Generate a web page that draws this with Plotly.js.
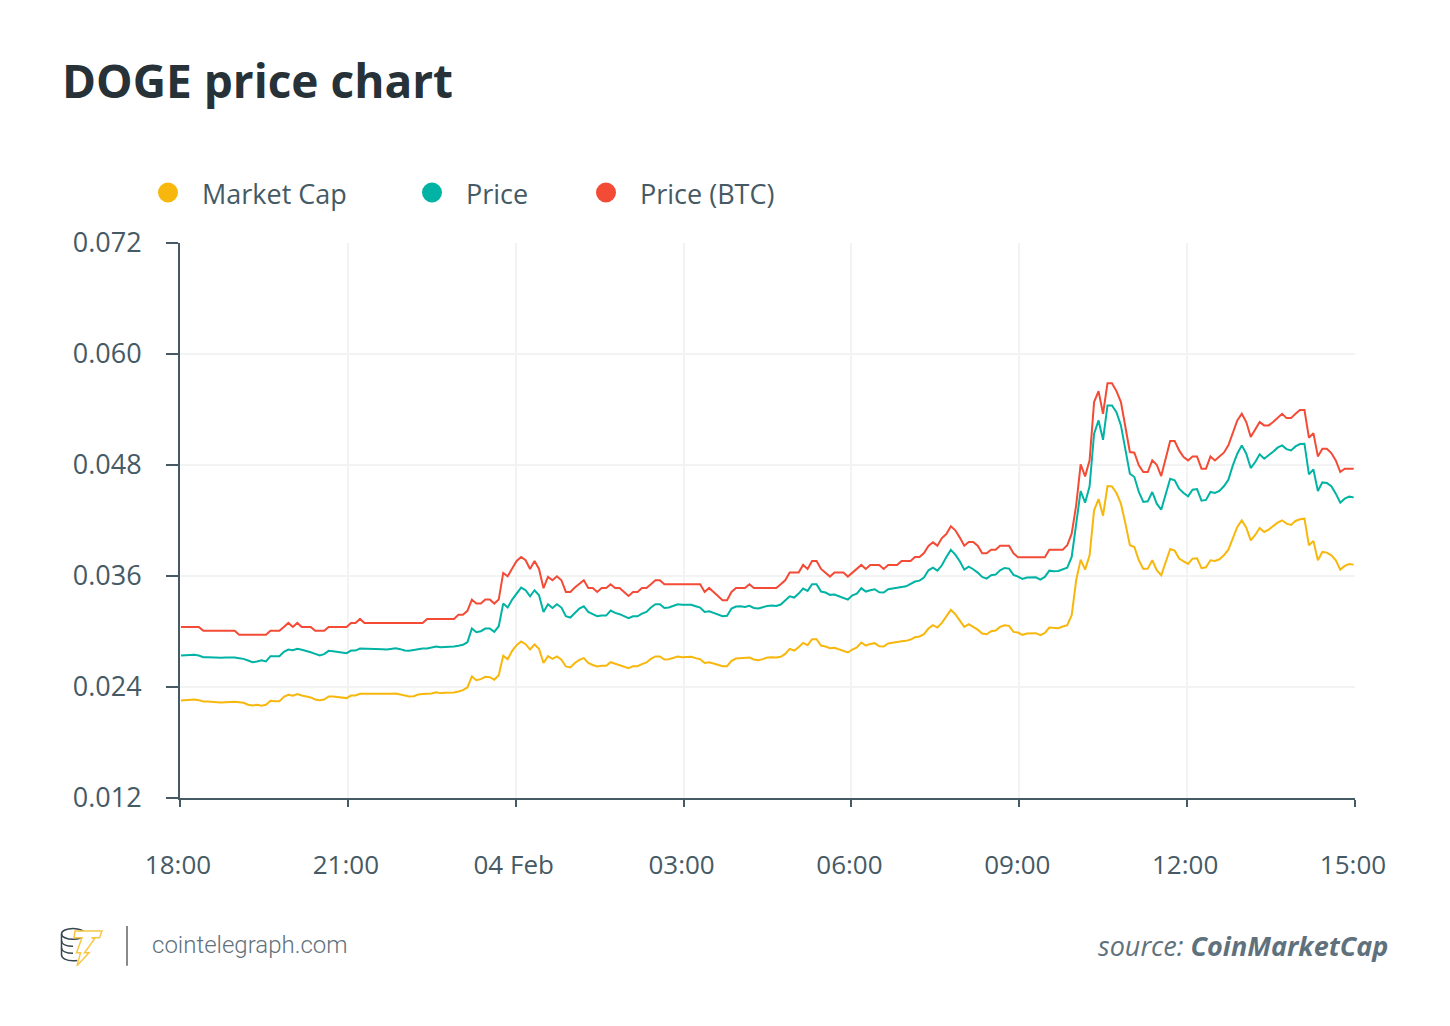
<!DOCTYPE html>
<html>
<head>
<meta charset="utf-8">
<script src="https://cdn.plot.ly/plotly-2.35.2.min.js"></script>
<style>html,body{margin:0;padding:0;background:#fff;}</style>
</head>
<body>
<div id="chart" style="width:1450px;height:1026px;"></div>
<script>
// values, one sample every 4.8 minutes
var priceBtc = [
  0.0305,0.0305,0.0305,0.0305,0.0305,0.03007,0.03007,0.03007,0.03007,0.03007,0.03007,0.03007,0.03007,
  0.02964,0.02964,0.02964,0.02964,0.02964,0.02964,0.02964,0.03007,0.03007,0.03007,0.0305,0.03093,0.0305,0.03093,
  0.0305,0.0305,0.0305,0.03007,0.03007,0.03007,0.0305,0.0305,0.0305,0.0305,0.0305,0.03093,0.03093,0.03136,
  0.03093,0.03093,0.03093,0.03093,0.03093,0.03093,0.03093,0.03093,0.03093,0.03093,0.03093,0.03093,0.03093,0.03093,
  0.03136,0.03136,0.03136,0.03136,0.03136,0.03136,0.03136,0.0318,0.0318,0.03223,0.03345,0.03302,0.03302,0.03345,0.03345,
  0.03302,0.03345,0.03633,0.03597,0.0368,
  0.03763,0.03806,0.0377,0.03676,0.03763,0.03676,0.03468,0.0359,0.03554,0.03597,0.03554,0.03428,0.03428,0.03475,0.03518,
  0.03554,0.03471,0.03471,0.03428,0.03471,0.03471,0.03511,0.03471,0.03471,0.03428,0.03385,0.03428,0.03428,0.03471,0.03471,
  0.03511,0.03554,0.03554,0.03511,0.03511,0.03511,0.03511,0.03511,0.03511,0.03511,0.03511,0.03511,0.03428,0.03471,0.03428,
  0.03385,0.03338,0.03338,0.03428,0.03471,0.03471,0.03471,0.03511,0.03471,0.03471,0.03471,0.03471,0.03471,0.03471,
  0.03511,0.03554,0.03637,0.03637,0.03637,0.0372,0.03676,0.03763,0.03763,0.03676,0.03637,0.03594,0.03637,0.03637,0.03637,0.03594,
  0.03637,0.0368,0.0372,0.03676,0.0372,0.0372,0.0372,0.03676,0.0372,0.0372,0.0372,0.03763,0.03763,0.03763,0.03806,0.03806,
  0.03849,0.03925,0.03964,0.03928,0.0401,0.04054,0.04137,0.04094,0.04015,0.03928,0.03968,0.03968,0.03928,0.03846,0.03846,
  0.03885,0.03885,0.03928,0.03928,0.03928,0.03846,0.03802,0.03802,0.03802,0.03802,0.03802,0.03802,0.03802,0.03885,0.03885,0.03885,
  0.03885,0.03932,0.04058,0.04364,0.04807,0.04677,0.0485,0.0548,0.05599,0.05354,0.05685,0.05685,0.05599,0.0548,0.0521,0.0494,
  0.04933,0.04796,0.04724,0.04724,0.0485,0.04803,0.04681,0.04868,0.05059,0.05059,0.04958,0.04886,0.0485,0.04893,0.04893,
  0.0476,0.0476,0.04893,0.0485,0.04893,0.04933,0.05012,0.05138,0.05282,0.05354,0.05264,0.05102,0.05181,0.05264,0.05228,0.05228,
  0.05264,0.05311,0.05354,0.05307,0.05307,0.05354,0.05394,0.05394,0.05095,0.05145,0.04893,0.04976,0.04976,0.04929,0.0485,
  0.04724,0.0476,0.0476,0.0476
];
var price = [
  0.0274,0.02744,0.02748,0.02748,0.0274,0.02722,0.02722,0.02719,0.02715,0.02715,0.02719,0.02722,0.02719,0.02712,0.02704,
  0.02686,0.02668,0.02676,0.0269,0.02676,0.02733,0.02733,0.02733,0.0278,0.02805,0.02798,0.02812,0.02802,0.02791,0.02776,
  0.02758,0.0274,0.02755,0.02791,0.02787,0.0278,0.02769,0.02766,0.02794,0.02794,0.02816,0.02816,0.02809,0.02816,0.02816,
  0.02809,0.02805,0.02816,0.0282,0.02809,0.02794,0.02791,0.02798,0.02812,0.02816,0.02816,0.02823,0.02838,0.0283,0.0283,
  0.02834,0.02838,0.02845,0.02856,0.02884,0.03032,0.02992,0.03003,0.03032,0.03032,0.02996,0.03057,0.03302,0.03259,0.03345,
  0.0341,0.03475,0.03446,0.03381,0.03446,0.03392,0.03212,0.03295,0.03255,0.03295,0.03259,0.03165,0.03151,0.03201,0.03248,
  0.03273,0.03212,0.03187,0.03165,0.03172,0.03172,0.03226,0.03201,0.03187,0.03165,0.03144,0.03165,0.03165,0.03194,0.03212,
  0.03259,0.03295,0.03295,0.03255,0.03259,0.0328,0.03295,0.03288,0.03288,0.03288,0.03273,0.03259,0.03212,0.03219,0.03201,
  0.0318,0.03165,0.03169,0.03248,0.0327,0.03273,0.03266,0.03277,0.03255,0.03248,0.03262,0.03277,0.0328,0.03277,0.03291,
  0.03331,0.03381,0.03367,0.0341,0.03464,0.03439,0.03511,0.03511,0.03432,0.03421,0.03396,0.03399,0.03381,0.03363,0.03345,
  0.03392,0.0341,0.03468,0.03432,0.03446,0.03457,0.03424,0.03421,0.03457,0.03468,0.03471,0.03482,0.03489,0.03514,0.0354,
  0.0355,0.03583,0.03662,0.03691,0.03658,0.03716,0.03806,0.03882,0.03831,0.03759,0.03669,0.03702,0.03673,0.03637,0.0359,
  0.03572,0.03608,0.03615,0.03662,0.03687,0.0368,0.03612,0.03594,0.03568,0.03583,0.03586,0.03586,0.03561,0.0359,0.03658,
  0.03651,0.03655,
  0.03669,0.0369,0.03806,0.04148,0.04519,0.04393,0.0457,0.05138,0.05282,0.05073,0.05444,0.05444,0.05372,0.05228,0.04976,
  0.04706,0.0467,0.04508,0.044,0.04407,0.04508,0.04382,0.04317,0.04483,0.04652,0.04634,0.04544,0.04497,0.04461,0.04533,
  0.0454,0.04414,0.04422,0.04508,0.04497,0.04519,0.0457,0.04641,0.04796,0.04922,0.05012,0.04922,0.04767,0.04832,0.04915,
  0.04868,0.04904,0.04944,0.04987,0.05012,0.04972,0.04958,0.05001,0.05026,0.0503,0.04699,0.04753,0.04519,0.04612,0.04605,
  0.0457,0.0449,0.04393,0.04436,0.04458,0.0445
];
var marketCap = [
  0.02254,0.02258,0.02262,0.02265,0.02258,0.02244,0.02244,0.02244,0.02236,0.02233,0.02236,0.02244,0.0224,0.02236,0.02229,
  0.02208,0.022,0.02208,0.02197,0.02208,0.02251,0.02247,0.02247,0.02294,0.02316,0.02305,0.02323,0.02308,0.02298,0.02287,
  0.02265,0.02258,0.02265,0.02298,0.02298,0.0229,0.02283,0.0228,0.02308,0.02308,0.02326,0.02326,0.02319,0.02326,0.02326,
  0.02323,0.02319,0.02326,0.0233,0.02319,0.02305,0.02298,0.02301,0.02319,0.02323,0.02323,0.0233,0.02344,0.02334,0.02337,
  0.02337,0.02341,0.02352,0.02366,0.02395,0.02514,0.02474,0.02485,0.0251,0.02506,0.02478,0.02528,0.02737,0.02701,0.02791,
  0.02852,0.02892,0.02863,0.02805,0.02859,0.02812,0.0266,0.02733,0.02704,0.0273,0.02694,0.02622,0.02611,0.0266,0.02694,
  0.02712,0.0266,0.02638,0.02622,0.02629,0.02629,0.02668,0.0265,0.02636,0.02622,0.02604,0.02625,0.02625,0.02647,0.02665,
  0.02704,0.0273,0.0273,0.02697,0.02701,0.02719,0.0273,0.02722,0.02726,0.02726,0.02712,0.02701,0.0266,0.02668,0.02654,
  0.02636,0.02625,0.02625,0.02683,0.02708,0.02712,0.02708,0.02719,0.02697,0.0269,0.02701,0.02719,0.02722,0.02719,0.02726,
  0.02758,0.02812,0.02794,0.0283,0.02877,0.02852,0.02917,0.02917,0.02848,0.02838,0.0282,0.02823,0.02805,0.02791,0.02773,
  0.02805,0.02827,0.02881,0.02848,0.02866,0.02874,0.02841,0.02838,0.0287,0.02881,0.02884,0.02895,0.02899,0.02913,0.02938,
  0.02946,0.02971,0.03032,0.03068,0.03043,0.03093,0.03165,0.03234,0.03187,0.03122,0.0305,0.03079,0.03054,0.0302,0.02978,
  0.0297,0.03003,0.03011,0.0305,0.03068,0.03061,0.02996,0.02989,0.02964,0.02978,0.02982,0.02982,0.0296,0.02985,0.03043,
  0.03036,0.03036,0.03054,0.03068,0.03176,0.03554,
  0.03777,0.03669,0.03824,0.0431,0.04432,0.04252,0.04573,0.04569,0.04497,0.04382,0.04166,0.03932,0.03914,0.0377,0.03676,
  0.0368,0.0377,0.03662,0.03608,0.03741,0.03892,0.03874,0.03788,0.03759,0.0373,0.03788,0.03792,0.03684,0.03694,0.0377,
  0.03763,0.03781,0.03824,0.03885,0.04004,0.0413,0.04202,0.04123,0.03986,0.04044,0.04119,0.04076,0.04101,0.04144,0.04177,
  0.04202,0.04166,0.04152,0.04195,0.04213,0.0422,0.03932,0.0398,0.0377,0.0386,0.03853,0.03824,0.0377,0.03669,0.03709,
  0.0373,0.03723
];

var tickTimes = ['2021-02-03 18:00','2021-02-03 21:00','2021-02-04 00:00','2021-02-04 03:00','2021-02-04 06:00','2021-02-04 09:00','2021-02-04 12:00','2021-02-04 15:00'];
var tickLabels = ['18:00','21:00','04 Feb','03:00','06:00','09:00','12:00','15:00'];
var yTicks = [0.012, 0.024, 0.036, 0.048, 0.06, 0.072];
var yLabels = ['0.012','0.024','0.036','0.048','0.060','0.072'];

var seriesNames = ['Market Cap', 'Price', 'Price (BTC)'];
var seriesColors = ['#f7b70c', '#00b3a4', '#f34b36'];

// sample times
var times = [];
for (var i = 0; i < priceBtc.length; i++) {
  times.push(Date.UTC(2021, 1, 3, 18, 1) + i * 288000);
}

// page pixels to paper coordinates of the plot area
function px(x) { return (x - 180) / 1175; }
function py(y) { return (798 - y) / 555.5; }

var textColor = '#455a64';

var data = [marketCap, price, priceBtc].map(function (values, k) {
  return {
    type: 'scatter',
    mode: 'lines',
    name: seriesNames[k],
    x: times,
    y: values,
    line: { color: seriesColors[k], width: 2 },
    showlegend: false
  };
});

// legend dots and labels
var legendDots = [168, 432, 606];
var legendTextX = [200, 464, 638];
var shapes = legendDots.map(function (x, k) {
  return {
    type: 'circle', xref: 'paper', yref: 'paper', layer: 'above',
    x0: px(x - 10), x1: px(x + 10), y0: py(202), y1: py(182),
    fillcolor: seriesColors[k], line: { width: 0 }
  };
});
// divider in the footer
shapes.push({
  type: 'line', xref: 'paper', yref: 'paper',
  x0: px(127), x1: px(127), y0: py(926), y1: py(966),
  line: { color: '#8a8a8a', width: 2 }
});

var annotations = seriesNames.map(function (name, k) {
  return {
    text: name, xref: 'paper', yref: 'paper', x: px(legendTextX[k]), y: py(193),
    xanchor: 'left', yanchor: 'middle', showarrow: false,
    font: { family: 'Open Sans', size: 27, color: textColor }
  };
});
annotations.push({
  text: 'cointelegraph.com', xref: 'paper', yref: 'paper', x: px(150), y: py(945),
  xanchor: 'left', yanchor: 'middle', showarrow: false,
  font: { family: 'Roboto', size: 24, color: '#5f717c', weight: 300 }
});
annotations.push({
  text: 'source: <b>CoinMarketCap</b>', xref: 'paper', yref: 'paper', x: px(1390), y: py(946),
  xanchor: 'right', yanchor: 'middle', showarrow: false,
  font: { family: 'Open Sans', size: 27, color: '#5f717c', style: 'italic' }
});

var logo = 'data:image/svg+xml,' + encodeURIComponent(
  '<svg xmlns="http://www.w3.org/2000/svg" width="44" height="40" viewBox="0 0 44 40">' +
  '<g fill="none" stroke="#37474f" stroke-width="1.5">' +
  '<ellipse cx="13" cy="7" rx="11.5" ry="5.5"/>' +
  '<path d="M1.5 7v21c0 3.5 5 6 11.5 6 1.500 0 3 -.1 4.300 -.4"/>' +
  '<path d="M1.500 14c0 3.500 5 5.500 11.500 5.500"/><path d="M1.500 21c0 3.500 5 5.500 11.500 5.500"/>' +
  '</g><path d="M15 4h27l-2.500 7h-8l3 1-10 14h4.500l-12 13 3.500 -13h-4l5.500 -15h-8z" fill="#fff" stroke="#f7c744" stroke-width="1.500"/></svg>');

var layout = {
  width: 1450,
  height: 1026,
  margin: { l: 180, r: 95, t: 242.5, b: 228 },
  paper_bgcolor: '#fff',
  plot_bgcolor: '#fff',
  showlegend: false,
  hovermode: false,
  font: { family: 'Open Sans', color: textColor },
  title: {
    text: '<b>DOGE price chart</b>',
    x: 62 / 1450, xanchor: 'left',
    y: 1 - 82 / 1026, yanchor: 'middle',
    font: { family: 'Open Sans', size: 46, color: '#263238' }
  },
  xaxis: {
    type: 'date',
    range: ['2021-02-03 18:00', '2021-02-04 15:00'],
    tickmode: 'array',
    tickvals: tickTimes,
    ticktext: tickLabels,
    ticks: 'outside', ticklen: 7, tickwidth: 2, tickcolor: textColor,
    ticklabelstandoff: 36, ticklabelshift: -2,
    tickfont: { family: 'Open Sans', size: 26, color: textColor },
    showline: true, linecolor: textColor, linewidth: 2,
    showgrid: true, gridcolor: '#f2f3f3', gridwidth: 2,
    zeroline: false
  },
  yaxis: {
    range: [0.012, 0.072],
    tickmode: 'array',
    tickvals: yTicks,
    ticktext: yLabels,
    ticks: 'outside', ticklen: 12, tickwidth: 2, tickcolor: textColor,
    ticklabelstandoff: 19,
    tickfont: { family: 'Open Sans', size: 27, color: textColor },
    showline: true, linecolor: textColor, linewidth: 2,
    showgrid: true, gridcolor: '#f2f3f3', gridwidth: 2,
    zeroline: false
  },
  shapes: shapes,
  annotations: annotations,
  images: [{
    source: logo, xref: 'paper', yref: 'paper',
    x: px(60), y: py(927), sizex: 44 / 1175, sizey: 40 / 555.5,
    xanchor: 'left', yanchor: 'top', sizing: 'stretch', layer: 'above'
  }]
};

Plotly.newPlot('chart', data, layout, { displayModeBar: false, staticPlot: true });
</script>
</body>
</html>
